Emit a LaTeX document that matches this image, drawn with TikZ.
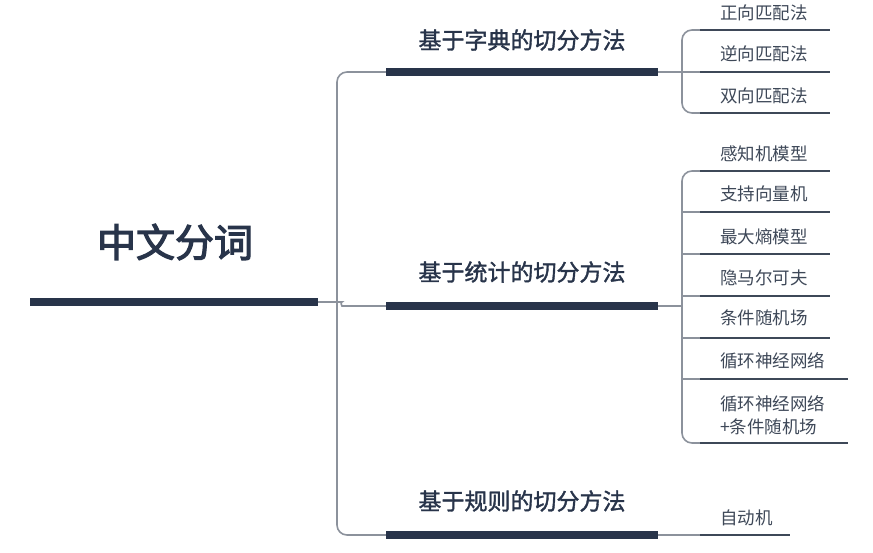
\documentclass[tikz,border=0pt]{standalone}
\usepackage{fontspec}
\newfontfamily\cjk{Noto Sans CJK SC}
\newfontfamily\cjkmed[FakeBold=1.5]{Noto Sans CJK SC}
\newfontfamily\cjkroot[FakeBold=3]{Noto Sans CJK SC}
\usetikzlibrary{positioning}
\definecolor{navy}{HTML}{28344A}
\definecolor{linkgray}{HTML}{8C929C}
\definecolor{leafgray}{HTML}{3E4858}
\tikzset{
  topic/.style={line width=8pt,navy},
  link/.style={line width=1.6pt,linkgray,rounded corners=10pt},
  leafline/.style={line width=2.6pt,leafgray},
  leaflabel/.style={anchor=west,inner sep=0pt,text=leafgray,font=\cjk\fontsize{17.5}{23}\selectfont,align=left},
  branchlabel/.style={inner sep=0pt,text=navy,font=\cjkmed\fontsize{23}{27}\selectfont}
}
\begin{document}
\begin{tikzpicture}[x=1pt,y=-1pt]
        \useasboundingbox (0,0) rectangle (873,552);
        \coordinate (R0) at (30,302);
        \coordinate (R1) at (318,302);
        \coordinate (A0) at (386,72);
        \coordinate (A1) at (658,72);
        \coordinate (B0) at (386,306);
        \coordinate (B1) at (658,306);
        \coordinate (C0) at (386,535);
        \coordinate (C1) at (658,535);

        % trunk
        \draw[link] (A0) -- (337,72) -- (337,535) -- (C0);
        \draw[link] (R1) -- (332,302) .. controls (340,302) and (342,306) .. (352,306) -- (B0);

        \draw[topic] (R0) -- (R1);
        \draw[topic] (A0) -- (A1);
        \draw[topic] (B0) -- (B1);
        \draw[topic] (C0) -- (C1);

        \node[inner sep=0pt,text=navy,font=\cjkroot\fontsize{39}{44}\selectfont] (root) at (175,242) {中文分词};
        \node[branchlabel] (dict) at (522,40) {基于字典的切分方法};
        \node[branchlabel] (stat) at (522,272) {基于统计的切分方法};
        \node[branchlabel] (rule) at (522,501) {基于规则的切分方法};

        % dictionary methods
        \draw[link] (A1) -- (682,72);
        \draw[link] (700,30) -- (682,30) -- (682,113) -- (700,113);
        \draw[link] (682,72) -- (700,72);
        \draw[leafline] (700,30) -- (830,30);
        \draw[leafline] (700,72) -- (830,72);
        \draw[leafline] (700,113) -- (830,113);
        \node[leaflabel] (fwd) at (720,13) {正向匹配法};
        \node[leaflabel] (bwd) at (720,54) {逆向匹配法};
        \node[leaflabel] (bi) at (720,96) {双向匹配法};

        % statistical methods
        \draw[link] (B1) -- (682,306);
        \draw[link] (700,171) -- (682,171) -- (682,443) -- (700,443);
        \draw[link] (682,212) -- (700,212);
        \draw[link] (682,254) -- (700,254);
        \draw[link] (682,296) -- (700,296);
        \draw[link] (682,338) -- (700,338);
        \draw[link] (682,379) -- (700,379);
        \draw[leafline] (700,171) -- (830,171);
        \draw[leafline] (700,212) -- (830,212);
        \draw[leafline] (700,254) -- (830,254);
        \draw[leafline] (700,296) -- (830,296);
        \draw[leafline] (700,338) -- (830,338);
        \draw[leafline] (700,379) -- (848,379);
        \draw[leafline] (700,443) -- (848,443);
        \node[leaflabel] (perc) at (720,154) {感知机模型};
        \node[leaflabel] (svm) at (720,194) {支持向量机};
        \node[leaflabel] (maxent) at (720,237) {最大熵模型};
        \node[leaflabel] (hmm) at (720,278) {隐马尔可夫};
        \node[leaflabel] (crf) at (720,318) {条件随机场};
        \node[leaflabel] (rnn) at (720,361) {循环神经网络};
        \node[leaflabel] (rnncrf) at (720,415) {循环神经网络\\+条件随机场};

        % rule methods
        \draw[link] (C1) -- (700,535);
        \draw[leafline] (700,535) -- (790,535);
        \node[leaflabel] (auto) at (720,518) {自动机};
\end{tikzpicture}
\end{document}
